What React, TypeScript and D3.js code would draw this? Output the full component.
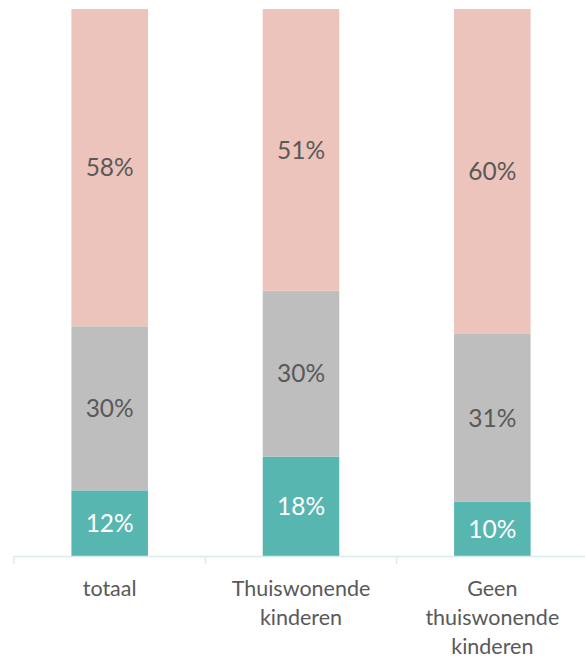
import React from "react";
import * as d3 from "d3";

const categories = ["totaal", "Thuiswonende kinderen", "Geen thuiswonende kinderen"];
const categoryLines = [["totaal"], ["Thuiswonende", "kinderen"], ["Geen", "thuiswonende", "kinderen"]];
const seriesKeys = ["teal", "grey", "pink"];
const tealValues = [12, 18, 10];
const greyValues = [30, 30, 31];
const pinkValues = [58, 51, 60];
const colors = ["#58b6b1", "#bebebe", "#ecc4bb"];
const labelColors = ["#ffffff", "#595959", "#595959"];

const W = 585;
const H = 656;

export default function App() {
  const rows = categories.map((c, i) => {
    const tot = tealValues[i] + greyValues[i] + pinkValues[i];
    return {
      cat: c,
      raw: [tealValues[i], greyValues[i], pinkValues[i]],
      teal: tealValues[i] / tot,
      grey: greyValues[i] / tot,
      pink: pinkValues[i] / tot,
    };
  });
  const stack = d3.stack<any>().keys(seriesKeys)(rows);
  const x = d3.scaleBand().domain(categories).range([14, 588]).padding(0);
  const y = d3.scaleLinear().domain([0, 1]).range([556, 9]);
  const barW = x.bandwidth() * 0.4;
  const font = "Lato, 'Open Sans', sans-serif";

  return (
    <svg width={W} height={H} style={{ position: "absolute", left: 0, top: 0 }}>
      {stack.map((layer, si) =>
        layer.map((d, i) => {
          const cx = (x(categories[i]) as number) + x.bandwidth() / 2;
          const y0 = y(d[0]);
          const y1 = y(d[1]);
          return (
            <g key={si + "-" + i}>
              <rect x={cx - barW / 2} y={y1} width={barW} height={y0 - y1} fill={colors[si]} />
              <text
                x={cx}
                y={(y0 + y1) / 2}
                dy="0.36em"
                textAnchor="middle"
                fontFamily={font}
                fontSize={24.5}
                fill={labelColors[si]}
              >
                {rows[i].raw[si] + "%"}
              </text>
            </g>
          );
        })
      )}
      <line x1={14} x2={588} y1={556.5} y2={556.5} stroke="#d9eceb" strokeWidth={1.5} />
      {[0, 1, 2, 3].map((k) => {
        const tx = 14 + k * x.step();
        return <line key={k} x1={tx} x2={tx} y1={556} y2={564} stroke="#d9eceb" strokeWidth={1.5} />;
      })}
      {categoryLines.map((lines, i) => {
        const cx = (x(categories[i]) as number) + x.bandwidth() / 2;
        return (
          <text key={i} textAnchor="middle" fontFamily={font} fontSize={21.5} fill="#595959">
            {lines.map((l, j) => (
              <tspan key={j} x={cx} y={596 + j * 29}>
                {l}
              </tspan>
            ))}
          </text>
        );
      })}
    </svg>
  );
}
